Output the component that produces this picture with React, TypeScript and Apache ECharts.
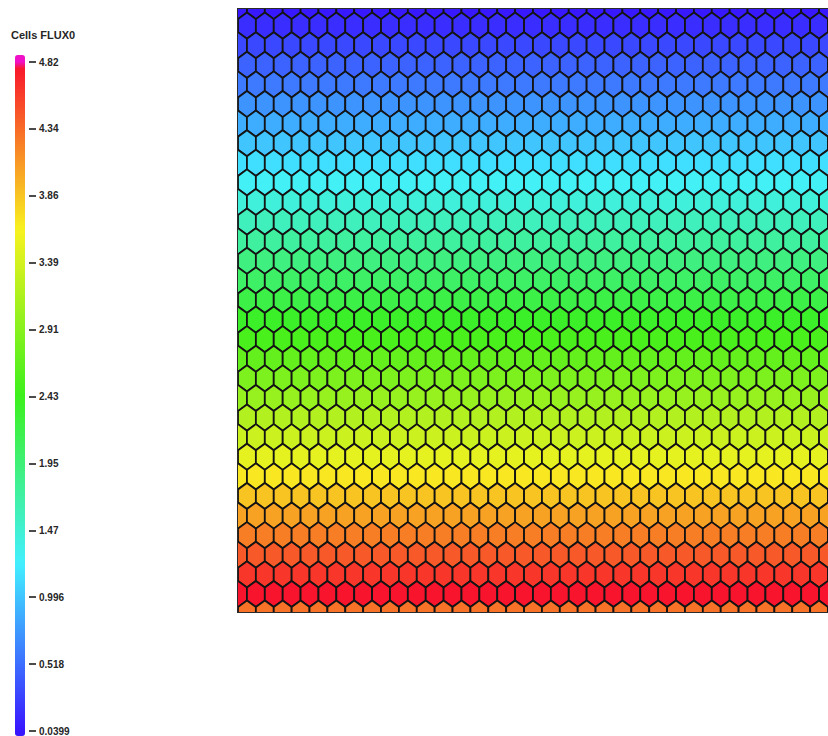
import React, { useEffect, useRef } from 'react';
import * as echarts from 'echarts';

// FLUX0 value per mesh row, top row first (cells in a row share one value)
const rowValues = [
  0.05, 0.17, 0.32, 0.46, 0.59, 0.73, 0.87, 1.0, 1.14, 1.28, 1.43,
  1.59, 1.74, 1.9, 2.05, 2.2, 2.36, 2.51, 2.68, 2.84, 3.01, 3.18,
  3.34, 3.51, 3.68, 3.87, 4.05, 4.24, 4.43, 4.62, 4.8, 4.3,
];
const columnCount = 36;

// colour-bar ticks, bottom to top
const tickLabels = ['0.0399', '0.518', '0.996', '1.47', '1.95', '2.43', '2.91', '3.39', '3.86', '4.34', '4.82'];
const scaleMin = 0.0399;
const scaleMax = 4.82;
const legendTitle = 'Cells FLUX0';

// "hot" colour table: blue -> cyan -> green -> yellow -> red, magenta above max
const colorStops: [number, number[]][] = [
  [0, [56, 22, 255]],
  [0.25, [66, 240, 255]],
  [0.5, [60, 240, 28]],
  [0.75, [248, 242, 32]],
  [1, [248, 16, 44]],
];
const aboveColor = [240, 16, 200];

function colorAt(v: number): string {
  if (v > scaleMax + 1e-6) return `rgb(${aboveColor.join(',')})`;
  let t = (v - scaleMin) / (scaleMax - scaleMin);
  t = Math.max(0, Math.min(1, t));
  for (let i = 1; i < colorStops.length; i++) {
    const [t1, c1] = colorStops[i];
    const [t0, c0] = colorStops[i - 1];
    if (t <= t1) {
      const f = (t - t0) / (t1 - t0);
      const c = c0.map((a, k) => Math.round(a + (c1[k] - a) * f));
      return `rgb(${c.join(',')})`;
    }
  }
  return `rgb(${colorStops[colorStops.length - 1][1].join(',')})`;
}

// bar runs a little past both ends of the tick range
const barMin = 0.004;
const barMax = 4.87;
const barColors: string[] = [];
for (let i = 0; i <= 300; i++) barColors.push(colorAt(barMin + ((barMax - barMin) * i) / 300));

// hexagonal cells: odd rows shifted by half a column
const cells: number[][] = [];
rowValues.forEach((v, r) => {
  for (let c = -1; c < columnCount; c++) {
    cells.push([c + (r % 2 === 1 ? 0.5 : 0), r, v]);
  }
});

const labelFont = { fontFamily: 'Liberation Sans', fontWeight: 'bold' as const, color: '#262626' };

export default function App() {
  const ref = useRef<HTMLDivElement>(null);

  useEffect(() => {
    if (!ref.current) return;
    const chart = echarts.init(ref.current, undefined, { renderer: 'svg' });
    chart.setOption({
      animation: false,
      backgroundColor: '#ffffff',
      title: {
        text: legendTitle,
        left: 11,
        top: 29,
        padding: 0,
        textStyle: { ...labelFont, fontSize: 11 },
      },
      grid: [
        { left: 238, top: 9, width: 640, height: 603, show: true, borderColor: '#2a2a2a', borderWidth: 2, backgroundColor: 'transparent' },
        { left: 29, top: 62, width: 1, height: 669 },
      ],
      xAxis: [
        { type: 'value', gridIndex: 0, min: 0, max: 33, show: false },
        { type: 'value', gridIndex: 1, min: 0, max: 1, show: false },
      ],
      yAxis: [
        { type: 'value', gridIndex: 0, min: 0.15, max: 30.92, inverse: true, show: false },
        {
          type: 'value',
          gridIndex: 1,
          position: 'right',
          min: 0,
          max: 10,
          interval: 1,
          axisLine: { show: false },
          splitLine: { show: false },
          axisTick: { show: true, length: 7, lineStyle: { color: '#1e1e1e', width: 1.6 } },
          axisLabel: {
            ...labelFont,
            margin: 9,
            fontSize: 10,
            formatter: (v: number) => tickLabels[Math.round(v)] ?? '',
          },
        },
      ],
      visualMap: {
        type: 'continuous',
        min: barMin,
        max: barMax,
        dimension: 2,
        seriesIndex: 0,
        orient: 'vertical',
        left: 15,
        top: 55,
        padding: 0,
        itemWidth: 10,
        itemHeight: 681,
        calculable: false,
        hoverLink: false,
        inRange: { color: barColors },
      },
      series: [
        {
          type: 'custom',
          coordinateSystem: 'cartesian2d',
          xAxisIndex: 0,
          yAxisIndex: 0,
          clip: true,
          encode: { x: 0, y: 1 },
          data: cells,
          renderItem: (params: any, api: any) => {
            const p = api.coord([api.value(0), api.value(1)]);
            const w = Math.abs(api.size([1, 0])[0]);
            const h = Math.abs(api.size([0, 1])[1]);
            const hw = w / 2;
            const tip = (h * 2) / 3;
            const side = h / 3;
            const points = [
              [p[0], p[1] - tip],
              [p[0] + hw, p[1] - side],
              [p[0] + hw, p[1] + side],
              [p[0], p[1] + tip],
              [p[0] - hw, p[1] + side],
              [p[0] - hw, p[1] - side],
            ];
            return {
              type: 'polygon',
              shape: { points },
              style: { fill: api.visual('color'), stroke: '#141414', lineWidth: 1.8 },
            };
          },
        },
      ],
    });
    return () => chart.dispose();
  }, []);

  return <div ref={ref} style={{ position: 'fixed', left: 0, top: 0, width: 828, height: 736 }} />;
}
